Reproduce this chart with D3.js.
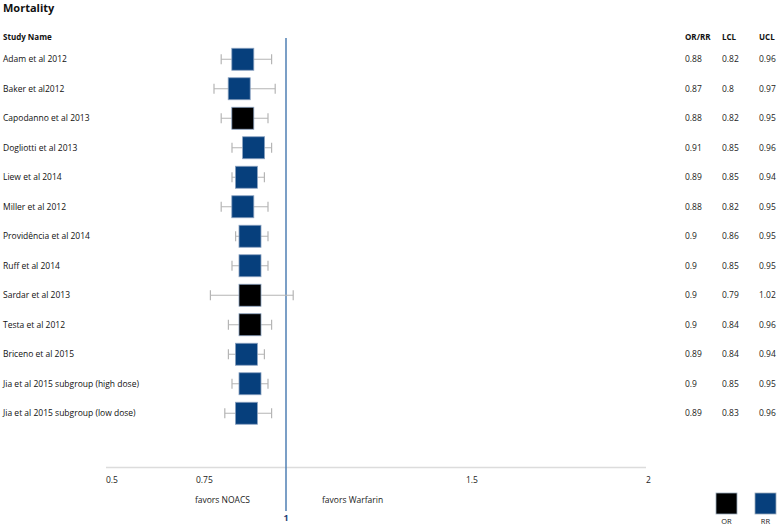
<!DOCTYPE html>
<html><head><meta charset="utf-8">
<script src="https://cdn.jsdelivr.net/npm/d3@7"></script>
<style>body{margin:0;background:#fff;} svg{display:block;font-family:"Open Sans","DejaVu Sans",sans-serif;}</style>
</head><body>
<svg id="c" width="778" height="525"></svg>
<script>
const studies = ["Adam et al 2012","Baker et al2012","Capodanno et al 2013","Dogliotti et al 2013","Liew et al 2014","Miller et al 2012","Providência et al 2014","Ruff et al 2014","Sardar et al 2013","Testa et al 2012","Briceno et al 2015","Jia et al 2015 subgroup (high dose)","Jia et al 2015 subgroup (low dose)"];
const estimate = [0.88,0.87,0.88,0.91,0.89,0.88,0.9,0.9,0.9,0.9,0.89,0.9,0.89];
const lcl = [0.82,0.8,0.82,0.85,0.85,0.82,0.86,0.85,0.79,0.84,0.84,0.85,0.83];
const ucl = [0.96,0.97,0.95,0.96,0.94,0.95,0.95,0.95,1.02,0.96,0.94,0.95,0.96];
const measure = ["RR","RR","OR","RR","RR","RR","RR","RR","OR","OR","RR","RR","RR"];
const tickValues = [0.5,0.75,1.5,2];
const tickLabels = ["0.5","0.75","1.5","2"];
const legendKeys = ["OR","RR"];

const svg = d3.select("#c");
const color = d3.scaleOrdinal().domain(legendKeys).range(["#000000","#063f7c"]);
const x = d3.scaleLinear().domain([0.5,2]).range([106,646]);
const y = d3.scaleBand().domain(studies).range([44.5,428]).paddingInner(0);

svg.append("text").attr("x",3).attr("y",12).attr("font-size",11).attr("font-weight","bold").attr("fill","#111").text("Mortality");
svg.append("text").attr("x",3).attr("y",39.5).attr("font-size",8).attr("font-weight","bold").attr("fill","#111").text("Study Name");
const cols = [{h:"OR/RR",x:685,v:estimate},{h:"LCL",x:722,v:lcl},{h:"UCL",x:759,v:ucl}];
cols.forEach(c=>{
  svg.append("text").attr("x",c.x).attr("y",39.5).attr("font-size",8).attr("font-weight","bold").attr("fill","#111").text(c.h);
});

// axis line
svg.append("line").attr("x1",x(0.5)).attr("x2",x(2)).attr("y1",467.5).attr("y2",467.5).attr("stroke","#dcdcdc").attr("stroke-width",1.5);
svg.selectAll(".tl").data(tickValues).enter().append("text")
  .attr("x",d=>x(d)).attr("y",483).attr("font-size",8.5).attr("fill","#222").text((d,i)=>tickLabels[i]);

// reference line at 1
svg.append("line").attr("x1",x(1)).attr("x2",x(1)).attr("y1",38).attr("y2",511).attr("stroke","#4f7fb3").attr("stroke-width",1.5);
svg.append("text").attr("x",x(1)).attr("y",521).attr("text-anchor","middle").attr("font-size",9).attr("font-weight","bold").attr("fill","#1f3c73").text("1");
svg.append("text").attr("x",x(1)-36).attr("y",503).attr("text-anchor","end").attr("font-size",8.5).attr("fill","#222").text("favors NOACS");
svg.append("text").attr("x",x(1)+36).attr("y",503).attr("text-anchor","start").attr("font-size",8.5).attr("fill","#222").text("favors Warfarin");

const rows = svg.selectAll(".row").data(studies).enter().append("g")
  .attr("transform",d=>`translate(0,${y(d)+y.bandwidth()/2})`);
rows.append("text").attr("x",3).attr("y",3).attr("font-size",8.5).attr("fill","#111").text(d=>d);
rows.append("line").attr("x1",(d,i)=>x(lcl[i])).attr("x2",(d,i)=>x(ucl[i])).attr("y1",0).attr("y2",0).attr("stroke","#b5b5b5").attr("stroke-width",1.2);
rows.append("line").attr("x1",(d,i)=>x(lcl[i])).attr("x2",(d,i)=>x(lcl[i])).attr("y1",-5).attr("y2",5).attr("stroke","#b5b5b5").attr("stroke-width",1.2);
rows.append("line").attr("x1",(d,i)=>x(ucl[i])).attr("x2",(d,i)=>x(ucl[i])).attr("y1",-5).attr("y2",5).attr("stroke","#b5b5b5").attr("stroke-width",1.2);
rows.append("rect").attr("x",(d,i)=>x(estimate[i])-11).attr("y",-11).attr("width",22).attr("height",22)
  .attr("fill",(d,i)=>color(measure[i])).attr("stroke","#8aa2c0").attr("stroke-width",0.8);
cols.forEach(c=>{
  rows.append("text").attr("x",c.x).attr("y",3).attr("font-size",8.5).attr("fill","#222").text((d,i)=>c.v[i]);
});

// legend
const leg = svg.selectAll(".lg").data(legendKeys).enter().append("g")
  .attr("transform",(d,i)=>`translate(${716+i*39},493)`);
leg.append("rect").attr("width",21).attr("height",21).attr("fill",d=>color(d)).attr("stroke","#9aaabb").attr("stroke-width",0.8);
leg.append("text").attr("x",10.5).attr("y",31).attr("text-anchor","middle").attr("font-size",7.5).attr("fill","#222").text(d=>d);
</script>
</body></html>
